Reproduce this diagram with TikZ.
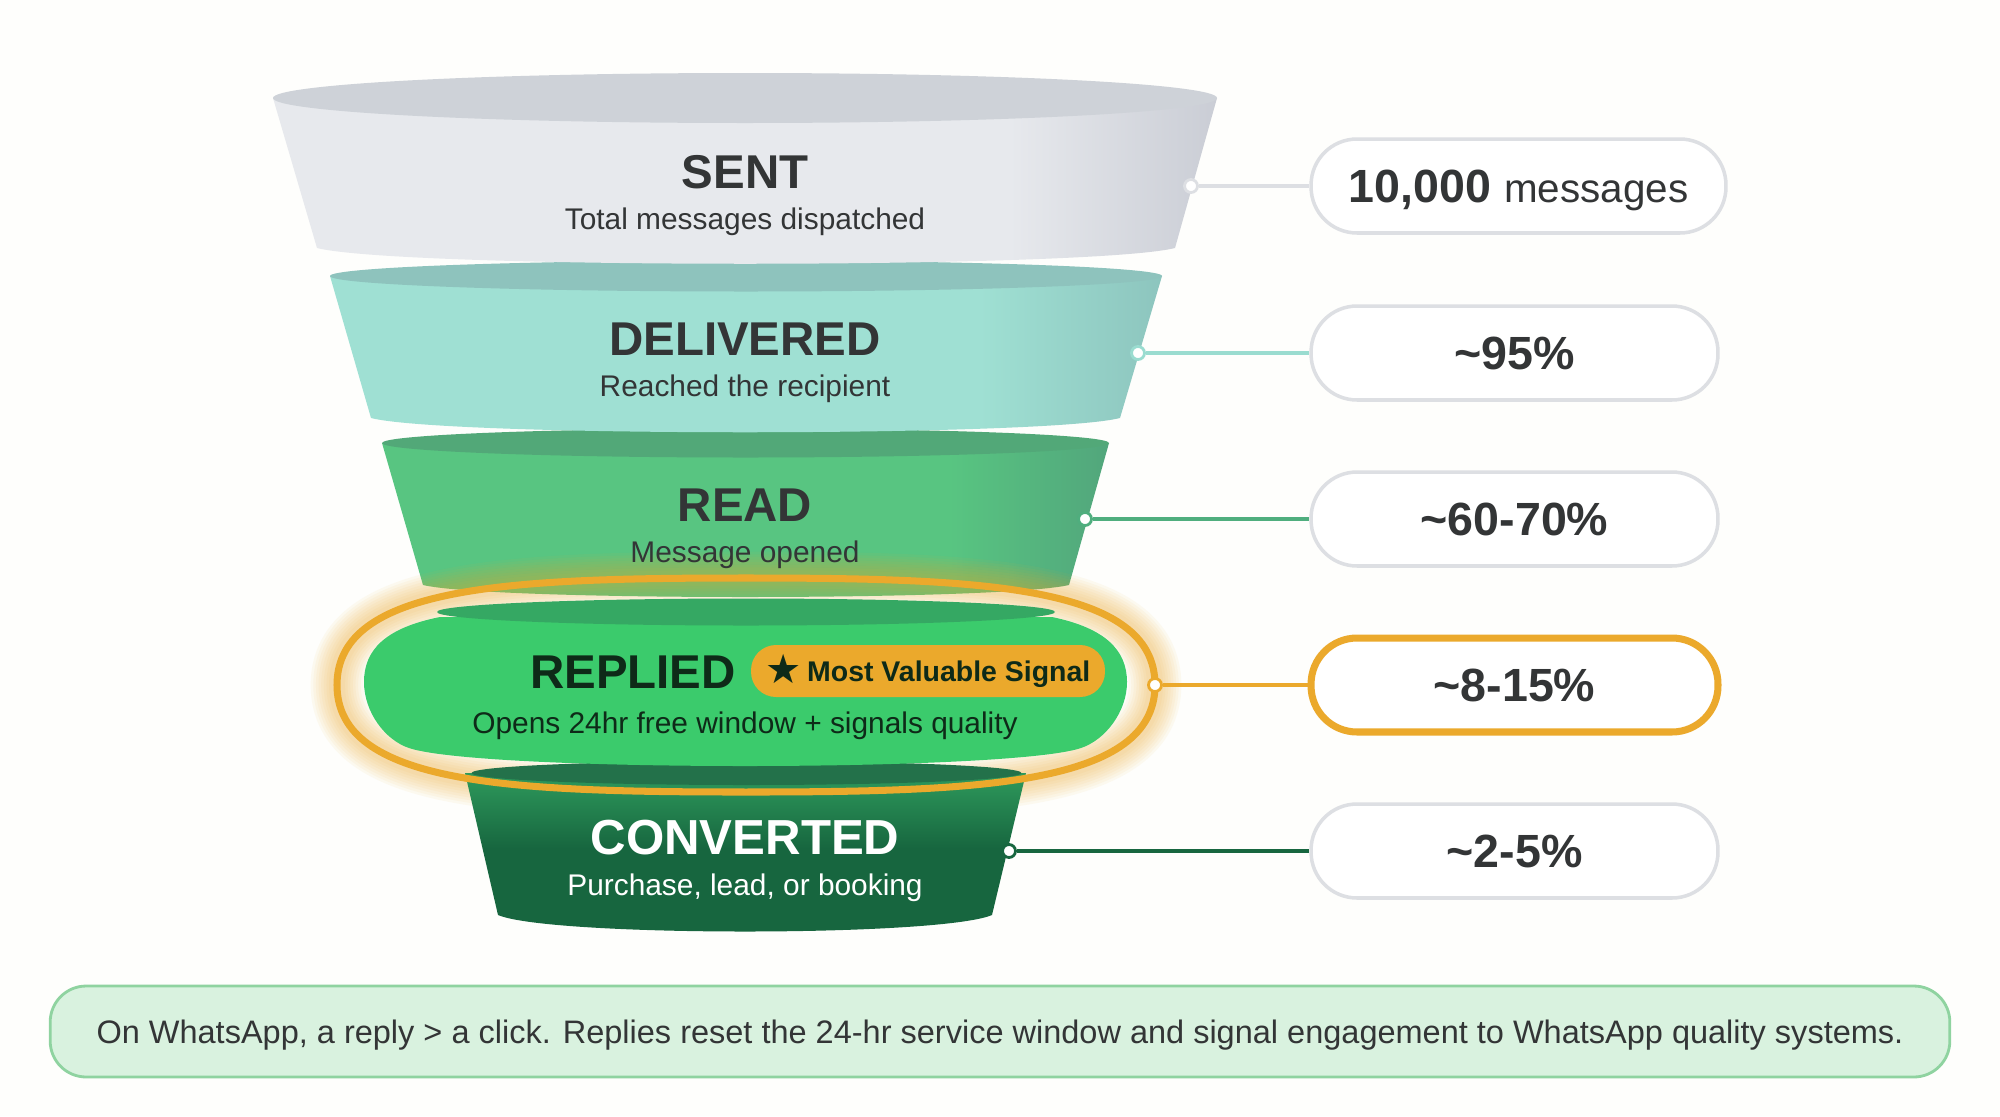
\documentclass[tikz,border=0pt]{standalone}
\usepackage{fontspec}
\setmainfont{Liberation Sans}
\newfontfamily\symFont{DejaVu Sans}
\definecolor{pageBack}{HTML}{FEFEFC}
\definecolor{textDark}{HTML}{333536}
\definecolor{textReplied}{HTML}{0E2A18}
\definecolor{sentTop}{HTML}{CED2D8}
\definecolor{sentLight}{HTML}{E7E9ED}
\definecolor{sentDark}{HTML}{CACDD5}
\definecolor{sentLine}{HTML}{DDDFE3}
\definecolor{delivTop}{HTML}{8EC3BD}
\definecolor{delivLight}{HTML}{9FE0D3}
\definecolor{delivDark}{HTML}{8DC5BE}
\definecolor{delivLine}{HTML}{9ADCD0}
\definecolor{readTop}{HTML}{52A878}
\definecolor{readLight}{HTML}{58C581}
\definecolor{readDark}{HTML}{52A67C}
\definecolor{readLine}{HTML}{4FAE7E}
\definecolor{repliedTop}{HTML}{35A863}
\definecolor{repliedBody}{HTML}{3BCB6C}
\definecolor{signalOrange}{HTML}{EBA92C}
\definecolor{convTop}{HTML}{23714A}
\definecolor{convLight}{HTML}{2E9A5C}
\definecolor{convDark}{HTML}{17663F}
\definecolor{noteFill}{HTML}{D9F2DF}
\definecolor{noteLine}{HTML}{8FD3A0}
\definecolor{pillLine}{HTML}{DDDFE3}
\pgfdeclarehorizontalshading{sentShade}{100bp}{color(0bp)=(sentLight); color(64bp)=(sentLight); color(75bp)=(sentDark); color(100bp)=(sentDark)}
\pgfdeclarehorizontalshading{delivShade}{100bp}{color(0bp)=(delivLight); color(64bp)=(delivLight); color(75bp)=(delivDark); color(100bp)=(delivDark)}
\pgfdeclarehorizontalshading{readShade}{100bp}{color(0bp)=(readLight); color(64bp)=(readLight); color(75bp)=(readDark); color(100bp)=(readDark)}
\pgfdeclareverticalshading{convShade}{100bp}{color(0bp)=(convDark); color(52bp)=(convDark); color(75bp)=(convLight); color(100bp)=(convLight)}
\begin{document}
\begin{tikzpicture}[x=0.02cm, y=-0.02cm,
    titleStyle/.style={inner sep=0, font=\fontsize{27}{30}\selectfont\bfseries, text=textDark},
    subStyle/.style={inner sep=0, font=\fontsize{17}{20}\selectfont, text=textDark},
    pillStyle/.style={draw=pillLine, line width=2pt, fill=white, rounded corners=0.92cm, minimum width=8.14cm, minimum height=1.88cm, inner sep=0, text depth=0pt, font=\fontsize{26.5}{30}\selectfont\bfseries, text=textDark},
    dotStyle/.style={circle, fill=white, draw=#1, line width=1.6pt, minimum size=0.26cm, inner sep=0},
    linkStyle/.style={line width=2pt, draw=#1}]
                    \useasboundingbox (0, 0) rectangle (2000, 1116);
                    \fill[pageBack] (0, 0) rectangle (2000, 1116);

                    \shade[shading=readShade] (382, 443) -- (423, 585) .. controls (490, 601) and (1000, 601) .. (1069, 585) -- (1109, 443) -- cycle;
                    \fill[readTop] (745.5, 443) ellipse [x radius=363.5, y radius=14.5];

                    \shade[shading=delivShade] (330, 276) -- (371, 418) .. controls (445, 437) and (1045, 437) .. (1120, 418) -- (1162, 276) -- cycle;
                    \fill[delivTop] (746, 276) ellipse [x radius=416, y radius=15.5];

                    \shade[shading=sentShade] (273, 98) -- (317, 248) .. controls (400, 269) and (1090, 269) .. (1175, 248) -- (1217, 98) -- cycle;
                    \fill[sentTop] (745, 98) ellipse [x radius=472, y radius=25];

                    \foreach \glowWidth in {30, 27, 24, 21, 18, 15, 12, 9}
                        \draw[signalOrange, opacity=0.06, line width=\glowWidth pt] (746, 578) .. controls (980, 578) and (1155, 585) .. (1155, 685) .. controls (1155, 785) and (980, 792) .. (746, 792) .. controls (512, 792) and (337, 785) .. (337, 685) .. controls (337, 585) and (512, 578) .. (746, 578) -- cycle;

                    \shade[shading=convShade] (465, 773) -- (498, 915) .. controls (550, 937) and (940, 937) .. (992, 915) -- (1026, 773) -- cycle;
                    \fill[convTop] (746.5, 773) ellipse [x radius=275, y radius=12];

                    \draw[signalOrange, line width=4pt] (746, 578) .. controls (980, 578) and (1155, 585) .. (1155, 685) .. controls (1155, 785) and (980, 792) .. (746, 792) .. controls (512, 792) and (337, 785) .. (337, 685) .. controls (337, 585) and (512, 578) .. (746, 578) -- cycle;

                    \fill[repliedBody] (440, 617) .. controls (385, 628) and (364, 650) .. (364, 682) .. controls (364, 712) and (385, 740) .. (409, 748) .. controls (480, 772) and (1010, 772) .. (1081, 748) .. controls (1105, 740) and (1127, 712) .. (1127, 682) .. controls (1127, 650) and (1105, 628) .. (1052, 617) -- cycle;
                    \fill[repliedTop] (746, 612) ellipse [x radius=309, y radius=13.5];

                    \node[titleStyle](sentTitle) at (745, 172) {SENT};
                    \node[subStyle](sentSub) at (745, 222) {Total messages dispatched};
                    \node[titleStyle](delivTitle) at (745, 339) {DELIVERED};
                    \node[subStyle](delivSub) at (745, 389) {Reached the recipient};
                    \node[titleStyle](readTitle) at (745, 505) {READ};
                    \node[subStyle](readSub) at (745, 555) {Message opened};
                    \node[titleStyle, text=textReplied](repliedTitle) at (633, 672) {REPLIED};
                    \node[subStyle, text=textReplied](repliedSub) at (745, 726) {Opens 24hr free window + signals quality};
                    \node[fill=signalOrange, rounded corners=0.5cm, minimum width=7.08cm, minimum height=1.04cm, inner sep=0, text depth=0pt, text=textReplied, font=\fontsize{16.2}{18}\selectfont\bfseries](badge) at (928, 671) {\smash{\raisebox{-1.5pt}{\symFont\fontsize{23}{23}\selectfont ★}}\hspace{3pt}Most Valuable Signal\hspace{3pt}};
                    \node[titleStyle, text=white, font=\fontsize{28}{30}\selectfont\bfseries](convTitle) at (745, 838) {CONVERTED};
                    \node[subStyle, text=white](convSub) at (745, 888) {Purchase, lead, or booking};

                    \node[pillStyle, minimum width=8.30cm](sentPill) at (1518.5, 186) {10,000 {\fontsize{23}{26}\selectfont\mdseries messages}};
                    \node[pillStyle](delivPill) at (1514.5, 353) {\textasciitilde 95\%};
                    \node[pillStyle](readPill) at (1514.5, 519) {\textasciitilde 60-70\%};
                    \node[pillStyle, draw=signalOrange, line width=4pt](repliedPill) at (1514.5, 685) {\textasciitilde 8-15\%};
                    \node[pillStyle](convPill) at (1514.5, 851) {\textasciitilde 2-5\%};

                    \node[dotStyle=sentLine](sentDot) at (1191, 186) {};
                    \node[dotStyle=delivLine](delivDot) at (1138, 353) {};
                    \node[dotStyle=readLine](readDot) at (1085, 519) {};
                    \node[dotStyle=signalOrange](repliedDot) at (1155, 685) {};
                    \node[dotStyle=convDark](convDot) at (1009, 851) {};

                    \draw[linkStyle=sentLine] (sentDot) -- (sentPill);
                    \draw[linkStyle=delivLine] (delivDot) -- (delivPill);
                    \draw[linkStyle=readLine] (readDot) -- (readPill);
                    \draw[linkStyle=signalOrange] (repliedDot) -- (repliedPill);
                    \draw[linkStyle=convDark] (convDot) -- (convPill);

                    \node[draw=noteLine, fill=noteFill, line width=1.6pt, rounded corners=0.72cm, minimum width=38cm, minimum height=1.82cm, inner sep=0, text depth=0pt, text=textDark, font=\fontsize{18.5}{22}\selectfont](note) at (1000, 1031.5) {On WhatsApp, a reply > a click. Replies reset the 24-hr service window and signal engagement to WhatsApp quality systems.};
                \end{tikzpicture}
\end{document}
